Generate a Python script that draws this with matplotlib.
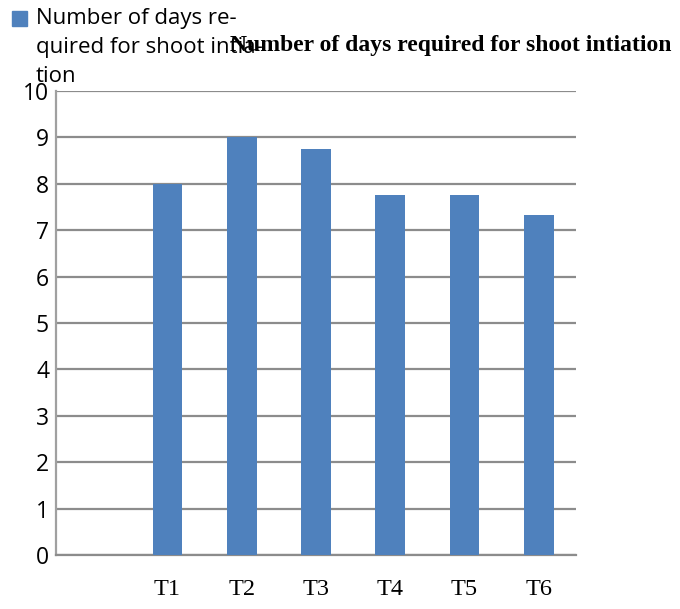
import matplotlib
matplotlib.use("Agg")
from matplotlib import pyplot as plt
import numpy as np

categories = ["", "T1", "T2", "T3", "T4", "T5", "T6"]
days = [0, 8, 9, 8.75, 7.75, 7.75, 7.33]
series_name = "Number of days re-\nquired for shoot intia-\ntion"
title = "Number of days required for shoot intiation"

fig = plt.figure(figsize=(6.8, 6.09), dpi=100)
ax = fig.add_axes([56 / 680, 1 - 555 / 609, 520 / 680, 464 / 609])

x = np.arange(len(categories))
ax.bar(x[1:], days[1:], width=0.4, color="#4f81bd", zorder=3)

ax.set_xlim(-0.5, len(categories) - 0.5)
ax.set_ylim(0, 10)
ax.set_yticks(range(0, 11))
ax.set_xticks(x)
ax.set_xticklabels(categories, family="Liberation Serif", fontsize=17.5)
ax.tick_params(axis="x", length=0, pad=17)
ax.tick_params(axis="y", length=0, pad=5, labelsize=16.5)
for lbl in ax.get_yticklabels():
    lbl.set_family("Open Sans")

ax.grid(axis="y", color="#8c8c8c", linewidth=1.6, zorder=0)
for s in ["top", "right"]:
    ax.spines[s].set_visible(False)
ax.spines["left"].set_color("#a0a0a0")
ax.spines["left"].set_linewidth(1.6)
ax.spines["bottom"].set_color("#8c8c8c")
ax.spines["bottom"].set_linewidth(1.6)

# legend-like key at the top left
fig.patches.append(plt.Rectangle((12 / 680, 1 - 26 / 609), 15 / 680, 15 / 609,
                                 transform=fig.transFigure, color="#4f81bd"))
fig.text(36 / 680, 1 - 8 / 609, series_name, family="Open Sans", fontsize=16,
         va="top", ha="left", linespacing=1.5)

fig.text(451 / 680, 1 - 45 / 609, title, family="Liberation Serif",
         fontweight="bold", fontsize=17, ha="center", va="center")

plt.savefig("out.png")
